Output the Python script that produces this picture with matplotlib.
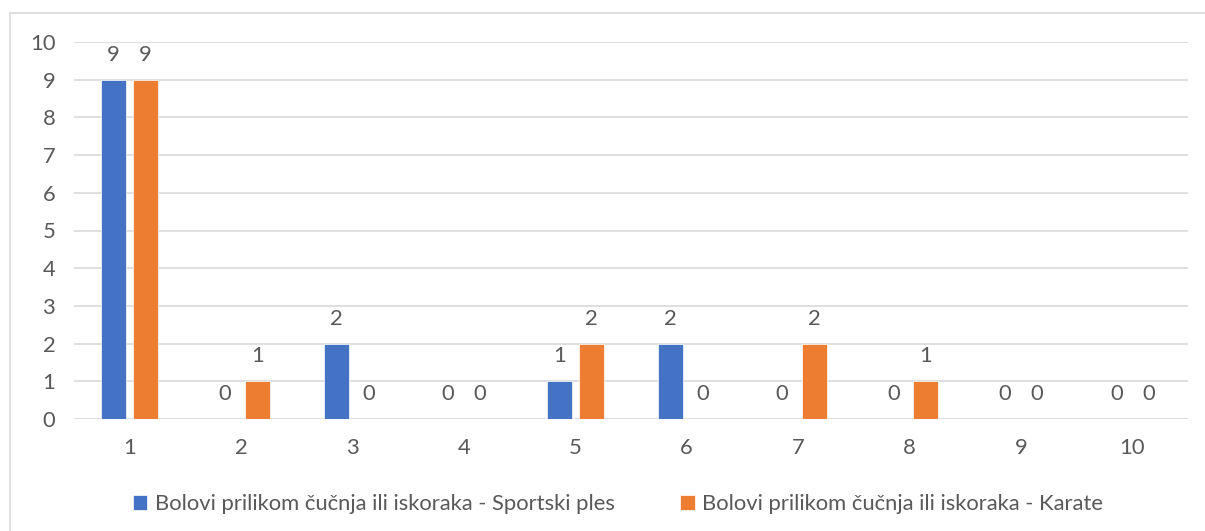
import matplotlib
matplotlib.use("Agg")
import matplotlib.pyplot as plt
from matplotlib.patches import Rectangle
import numpy as np

categories = ["1", "2", "3", "4", "5", "6", "7", "8", "9", "10"]
sportski_ples = [9, 0, 2, 0, 1, 2, 0, 0, 0, 0]
karate = [9, 1, 0, 0, 2, 0, 2, 1, 0, 0]
series_names = ["Bolovi prilikom čučnja ili iskoraka - Sportski ples",
                "Bolovi prilikom čučnja ili iskoraka - Karate"]
yticks = list(range(0, 11))

plt.rcParams['font.family'] = ['Lato', 'DejaVu Sans']
TXT = '#595959'
BLUE = '#4472C4'
ORANGE = '#ED7D31'
GRID = '#D9D9D9'
FS = 15.8

W, H = 1205, 531
fig = plt.figure(figsize=(W / 100, H / 100), dpi=100)

# outer chart border
fig.patches.append(Rectangle((10 / W, -0.1), 1.2, (H - 13) / H + 0.1,
                             transform=fig.transFigure, fill=False,
                             edgecolor=GRID, linewidth=1.2))

x0, x1 = 74, 1188
ytop, ybot = 42, 419
ax = fig.add_axes([x0 / W, (H - ybot) / H, (x1 - x0) / W, (ybot - ytop) / H])

x = np.arange(len(categories))
bw = 0.224
off = 0.144
b1 = ax.bar(x - off, sportski_ples, bw, color=BLUE, edgecolor='white', linewidth=0.5,
            label=series_names[0], zorder=3)
b2 = ax.bar(x + off, karate, bw, color=ORANGE, edgecolor='white', linewidth=0.5,
            label=series_names[1], zorder=3)

for xs, vals in ((x - off, sportski_ples), (x + off, karate)):
    for xi, v in zip(xs, vals):
        ax.annotate(str(v), (xi, v), xytext=(0, 18), textcoords='offset points',
                    ha='center', va='center', fontsize=FS, color=TXT)

ax.set_xlim(-0.5, len(categories) - 0.5)
ax.set_ylim(0, 10)
ax.set_yticks(yticks)
ax.set_xticks(x)
ax.set_xticklabels(categories)
ax.tick_params(axis='both', length=0, labelsize=FS, labelcolor=TXT)
ax.tick_params(axis='y', pad=13.5)
ax.tick_params(axis='x', pad=14)
ax.grid(axis='y', color=GRID, linewidth=1.2, zorder=0)
for s in ax.spines.values():
    s.set_visible(False)
ax.set_facecolor('none')

leg = fig.legend(handles=[b1, b2], labels=series_names, loc='center',
                 bbox_to_anchor=(618 / W, (H - 504) / H), ncol=2, frameon=False,
                 fontsize=FS, handlelength=0.65, handleheight=0.65,
                 handletextpad=0.35, columnspacing=3.0)
for t in leg.get_texts():
    t.set_color(TXT)

fig.savefig("out.png", dpi=100)
